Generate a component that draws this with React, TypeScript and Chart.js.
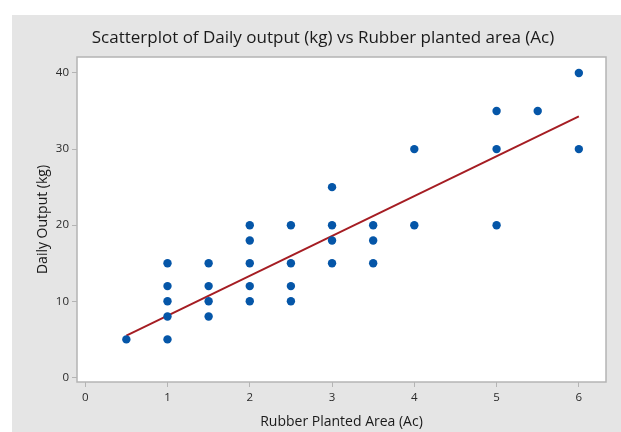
import React, { useEffect, useRef } from "react";
import { Chart, registerables } from "chart.js";

Chart.register(...registerables);

// ---- data ----
const areaX = [
  0.5,
  1, 1, 1, 1, 1,
  1.5, 1.5, 1.5, 1.5,
  2, 2, 2, 2, 2,
  2.5, 2.5, 2.5, 2.5,
  3, 3, 3, 3,
  3.5, 3.5, 3.5,
  4, 4,
  5, 5, 5,
  5.5,
  6, 6,
];
const outputY = [
  5,
  5, 8, 10, 12, 15,
  8, 10, 12, 15,
  10, 12, 15, 18, 20,
  10, 12, 15, 20,
  15, 18, 20, 25,
  15, 18, 20,
  20, 30,
  20, 30, 35,
  35,
  30, 40,
];
const fitX = [0.5, 6];
const fitY = [5.5, 34.3];
const xTicks = [0, 1, 2, 3, 4, 5, 6];
const yTicks = [0, 10, 20, 30, 40];
const titleText = "Scatterplot of Daily output (kg) vs Rubber planted area (Ac)";
const xTitle = "Rubber Planted Area (Ac)";
const yTitle = "Daily Output (kg)";

const FONT = "'Open Sans', 'Noto Sans', sans-serif";
const PANEL = "#e5e5e5";
const TEXT = "#1a1a1a";

const decorPlugin = {
  id: "decor",
  beforeDraw(chart: any) {
    const { ctx, chartArea: a, width, height } = chart;
    ctx.save();
    ctx.fillStyle = "#ffffff";
    ctx.fillRect(0, 0, width, height);
    ctx.fillStyle = PANEL;
    ctx.fillRect(12, 15, width - 12, height - 15);
    ctx.fillStyle = "#ffffff";
    ctx.fillRect(a.left, a.top, a.right - a.left, a.bottom - a.top);
    ctx.restore();
  },
  afterDraw(chart: any) {
    const { ctx, chartArea: a } = chart;
    ctx.save();
    ctx.strokeStyle = "#b4b4b4";
    ctx.lineWidth = 1.5;
    ctx.strokeRect(a.left, a.top, a.right - a.left, a.bottom - a.top);

    ctx.fillStyle = TEXT;
    ctx.textAlign = "center";
    ctx.textBaseline = "middle";
    ctx.font = `500 17px ${FONT}`;
    ctx.fillText(titleText, 323, 38);

    ctx.font = `14px ${FONT}`;
    ctx.fillText(xTitle, (a.left + a.right) / 2, 422);

    ctx.translate(43, (a.top + a.bottom) / 2);
    ctx.rotate(-Math.PI / 2);
    ctx.fillText(yTitle, 0, 0);
    ctx.restore();
  },
};

export default function App() {
  const ref = useRef<HTMLCanvasElement | null>(null);

  useEffect(() => {
    if (!ref.current) return;
    const points = areaX.map((x, i) => ({ x, y: outputY[i] }));
    const fit = fitX.map((x, i) => ({ x, y: fitY[i] }));
    const chart = new Chart(ref.current, {
      type: "scatter",
      data: {
        datasets: [
          {
            data: fit,
            showLine: true,
            borderColor: "#a51d23",
            borderWidth: 2,
            pointRadius: 0,
            order: 2,
          },
          {
            data: points,
            backgroundColor: "#0556a8",
            borderColor: "#0556a8",
            pointRadius: 4.2,
            borderWidth: 0,
            order: 1,
          },
        ],
      },
      options: {
        animation: false,
        responsive: false,
        devicePixelRatio: 1,
        layout: { padding: { top: 57, left: 0, right: 15, bottom: 0 } },
        plugins: {
          legend: { display: false },
          tooltip: { enabled: false },
          title: { display: false },
        },
        scales: {
          x: {
            type: "linear",
            min: -0.1,
            max: 6.33,
            afterBuildTicks: (s: any) => {
              s.ticks = xTicks.map((v) => ({ value: v }));
            },
            afterFit: (s: any) => {
              s.height = 50;
            },
            grid: {
              drawOnChartArea: false,
              drawTicks: true,
              tickLength: 5,
              color: "#b4b4b4",
              lineWidth: 1,
            },
            border: { display: false },
            ticks: {
              padding: 4,
              maxRotation: 0,
              autoSkip: false,
              color: "#2a2a2a",
              font: { family: FONT, size: 11.5 },
            },
          },
          y: {
            type: "linear",
            min: -0.6,
            max: 42.1,
            afterBuildTicks: (s: any) => {
              s.ticks = yTicks.map((v) => ({ value: v }));
            },
            afterFit: (s: any) => {
              s.width = 77;
            },
            grid: {
              drawOnChartArea: false,
              drawTicks: true,
              tickLength: 5,
              color: "#b4b4b4",
              lineWidth: 1,
            },
            border: { display: false },
            ticks: {
              padding: 3,
              autoSkip: false,
              color: "#2a2a2a",
              font: { family: FONT, size: 11.5 },
            },
          },
        },
      },
      plugins: [decorPlugin],
    });
    return () => chart.destroy();
  }, []);

  return (
    <div style={{ position: "absolute", left: 0, top: 0, width: 621, height: 432 }}>
      <canvas ref={ref} width={621} height={432} style={{ display: "block" }} />
    </div>
  );
}
